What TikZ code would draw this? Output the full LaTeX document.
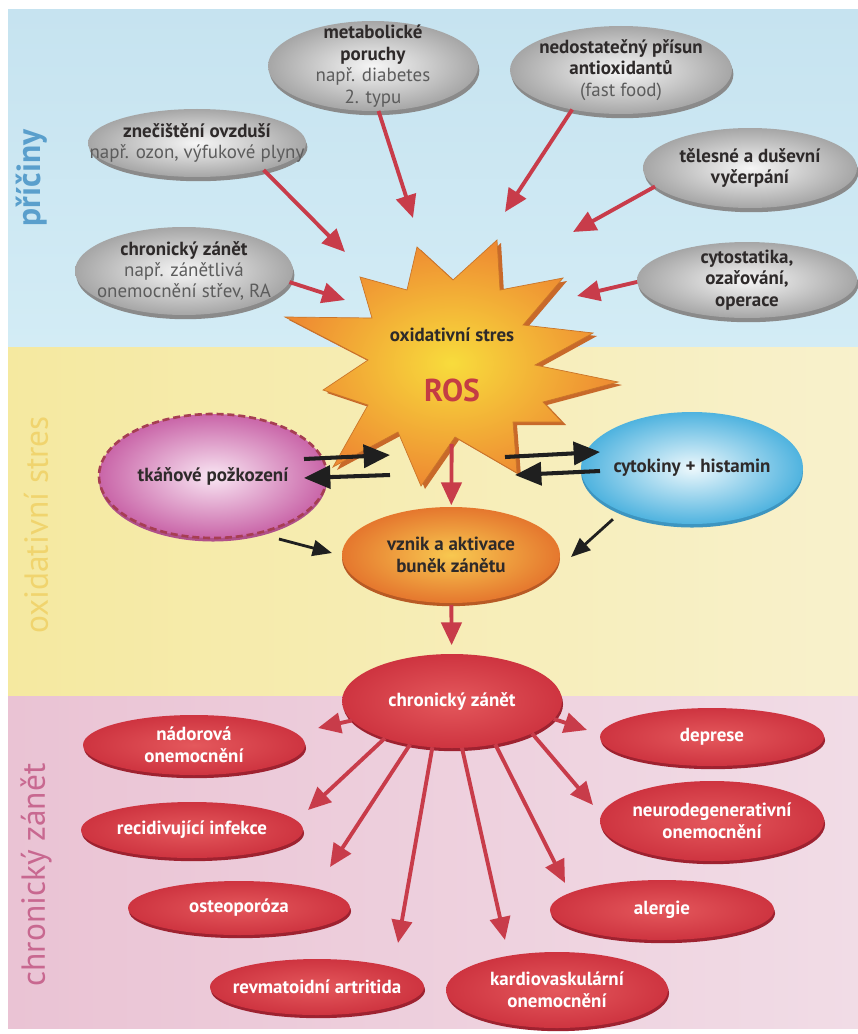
\documentclass[tikz,border=0pt]{standalone}
\usepackage{fontspec}
\setmainfont{PT Sans}
\usetikzlibrary{shapes.geometric,arrows.meta,shadows}
\definecolor{bandblue}{HTML}{D3ECF5}
\definecolor{bandblueT}{HTML}{C6E3F0}
\definecolor{bandyel}{HTML}{F5E9A0}
\definecolor{bandyelL}{HTML}{F8F1CC}
\definecolor{bandpink}{HTML}{EAC3D4}
\definecolor{bandpinkL}{HTML}{F1DCE6}
\definecolor{lblblue}{HTML}{5A9FCC}
\definecolor{lblyel}{HTML}{F0D46E}
\definecolor{lblpink}{HTML}{C86890}
\definecolor{greyin}{HTML}{F6F6F6}
\definecolor{greyout}{HTML}{A6A6A6}
\definecolor{greyrim}{HTML}{8A8A8A}
\definecolor{txtdark}{HTML}{2E2A2A}
\definecolor{txtsub}{HTML}{5C5C5C}
\definecolor{arrred}{HTML}{C83C4A}
\definecolor{starin}{HTML}{F8DC3C}
\definecolor{starout}{HTML}{EE8A32}
\definecolor{starrim}{HTML}{C8692A}
\definecolor{rosred}{HTML}{C43C44}
\definecolor{pinkin}{HTML}{F9E6F3}
\definecolor{pinkout}{HTML}{C965A8}
\definecolor{pinkdash}{HTML}{A63E52}
\definecolor{pinkrim}{HTML}{B0508A}
\definecolor{bluein}{HTML}{EDF8FC}
\definecolor{blueout}{HTML}{4FB3DF}
\definecolor{bluerim}{HTML}{3D95C0}
\definecolor{orin}{HTML}{F8C850}
\definecolor{orout}{HTML}{E5772E}
\definecolor{orrim}{HTML}{B85A24}
\definecolor{redin}{HTML}{E4585C}
\definecolor{redout}{HTML}{CE3440}
\definecolor{redrim}{HTML}{9E2230}
\newcommand\nf{\fontsize{10.8}{12.2}\selectfont}
\tikzset{
  wh/.style 2 args={minimum width=#1*0.02cm, minimum height=#2*0.02cm},
  oval/.style={ellipse, inner sep=0pt, outer sep=0pt},
  greyoval/.style={oval, shading=radial, inner color=greyin, outer color=greyout,
     general shadow={fill=greyrim, shadow xshift=0.8pt, shadow yshift=-2.4pt}},
  redoval/.style={oval, shading=radial, inner color=redin, outer color=redout,
     general shadow={fill=redrim, shadow xshift=0.6pt, shadow yshift=-1.8pt}},
  txt/.style={align=center, font=\nf, text=txtdark},
  btxt/.style={align=center, font=\nf\bfseries, text=txtdark},
  wtxt/.style={align=center, font=\nf\bfseries, text=white},
  rarr/.style={draw=arrred, line width=2.2pt, -{Triangle[length=13pt,width=11.5pt]}},
  barr/.style={draw=black!88, line width=2.3pt, -{Triangle[length=15pt,width=13pt]}},
  sbarr/.style={draw=black!88, line width=1.6pt, -{Triangle[length=11pt,width=9pt]}},
  bandlbl/.style={rotate=90, font=\fontsize{19}{22}\selectfont},
}
\begin{document}
\begin{tikzpicture}[x=0.02cm,y=-0.02cm]
\useasboundingbox (0,0) rectangle (858,1034);
\fill[white] (0,0) rectangle (858,1034);
% bands
\shade[top color=bandblueT, bottom color=bandblue] (8,10) rectangle (858,347);
\shade[left color=bandyel, right color=bandyelL] (8,347) rectangle (858,696);
\shade[left color=bandpink, right color=bandpinkL] (8,696) rectangle (858,1028);
\node[bandlbl, text=lblblue, font=\fontsize{19}{22}\selectfont\bfseries] (lab1) at (32,178) {příčiny};
\node[bandlbl, text=lblyel] (lab2) at (36,525) {oxidativní stres};
\node[bandlbl, text=lblpink] (lab3) at (36,875) {chronický zánět};

% star
\fill[starrim] [shift={(4,3)}] (497,240) -- (500,290) -- (563,278) -- (523,325) -- (593,333) -- (535,365) -- (618,382) -- (543,402) -- (562,422) -- (513,422) -- (517,473) -- (455,437) -- (421,486) -- (398,432) -- (333,467) -- (368,405) -- (323,390) -- (368,360) -- (285,317) -- (372,318) -- (360,277) -- (407,290) -- (417,247) -- (453,280) -- cycle;
\shade[shading=radial, inner color=starin, outer color=starout, draw=starout!85!black, line width=0.4pt] (497,240) -- (500,290) -- (563,278) -- (523,325) -- (593,333) -- (535,365) -- (618,382) -- (543,402) -- (562,422) -- (513,422) -- (517,473) -- (455,437) -- (421,486) -- (398,432) -- (333,467) -- (368,405) -- (323,390) -- (368,360) -- (285,317) -- (372,318) -- (360,277) -- (407,290) -- (417,247) -- (453,280) -- cycle;
\node[btxt] (stress) at (452,335) {oxidativní stres};
\node[font=\fontsize{18}{20}\selectfont\bfseries, text=rosred, inner sep=0pt] (ros) at (452,390) {ROS};

% grey cause nodes
\node[greyoval, wh={210}{90}] (met) at (373,66) {};
\node[txt] (met-t) at (met) {\textbf{metabolické}\\\textbf{poruchy}\\{\color{txtsub}např. diabetes}\\{\color{txtsub}2. typu}};
\node[greyoval, wh={222}{88}] (ned) at (621,70) {};
\node[txt] (ned-t) at (ned) {\textbf{nedostatečný přísun}\\\textbf{antioxidantů}\\{\color{txtsub}(fast food)}};
\node[greyoval, wh={218}{68}] (znec) at (197,143) {};
\node[txt] (znec-t) at (znec) {\textbf{znečištění ovzduší}\\{\color{txtsub}např. ozon, výfukové plyny}};
\node[greyoval, wh={214}{80}] (tel) at (750,168) {};
\node[btxt] (tel-t) at (tel) {tělesné a duševní\\vyčerpání};
\node[greyoval, wh={218}{88}] (chr1) at (184,271) {};
\node[txt] (chr1-t) at (chr1) {\textbf{chronický zánět}\\{\color{txtsub}např. zánětlivá}\\{\color{txtsub}onemocnění střev, RA}};
\node[greyoval, wh={220}{76}] (cyto) at (747,280) {};
\node[btxt] (cyto-t) at (cyto) {cytostatika,\\ozařování,\\operace};

% arrow tips near the star
\coordinate (tZ) at (345,252);
\coordinate (tM) at (413,218);
\coordinate (tN) at (505,212);
\coordinate (tT) at (573,232);
\coordinate (tC) at (577,296);
\coordinate (tR) at (345,300);
\draw[rarr] (znec.-22) -- (tZ);
\draw[rarr] (met.-83) -- (tM);
\draw[rarr] (ned.219) -- (tN);
\draw[rarr] (tel.191) -- (tT);
\draw[rarr] (cyto.181) -- (tC);
\draw[rarr] (chr1.-6) -- (tR);

% middle nodes
\node[oval, wh={228}{124}, shading=radial, inner color=pinkin, outer color=pinkout,
  general shadow={fill=pinkrim, shadow yshift=-2pt},
  draw=pinkdash, line width=1.5pt, dash pattern=on 4pt off 2.2pt] (tk) at (213,476) {};
\node[btxt] (tk-t) at (tk) {tkáňové požkození};
\node[oval, wh={222}{112}, shading=radial, inner color=bluein, outer color=blueout,
  general shadow={fill=bluerim, shadow yshift=-2pt}] (cy) at (692,468) {};
\node[btxt] (cy-t) at (cy) {cytokiny + histamin};
\node[oval, wh={218}{96}, shading=radial, inner color=orin, outer color=orout,
  general shadow={fill=orrim, shadow yshift=-1.8pt}] (vz) at (451,555) {};
\node[btxt] (vz-t) at (vz) {vznik a aktivace\\buněk zánětu};
\node[redoval, wh={220}{94}] (chz) at (452,701) {};
\node[wtxt] (chz-t) at (chz) {chronický zánět};

% black arrows
\coordinate (sL1) at (390,455);
\coordinate (sL2) at (390,475);
\coordinate (sR1) at (505,457);
\coordinate (sR2) at (515,475);
\draw[barr] ([shift={(-23,-17)}]tk.east) -- (sL1);
\draw[barr] (sL2) -- ([shift={(-23,2)}]tk.east);
\draw[barr] (sR1) -- ([shift={(19,-16)}]cy.west);
\draw[barr] ([shift={(19,3)}]cy.west) -- (sR2);
\draw[sbarr] ([shift={(10,9)}]tk.-44) -- ([shift={(-10,-2)}]vz.west);
\draw[sbarr] ([shift={(-11,7)}]cy.213) -- ([shift={(11,2)}]vz.east);

% vertical red arrows
\draw[rarr, shorten <=24pt, shorten >=1pt] (ros) -- (vz);
\draw[rarr, shorten <=1pt, shorten >=5pt] (vz) -- (chz);

% disease nodes
\node[redoval, wh={222}{60}] (nad) at (194,745) {};
\node[wtxt] (nad-t) at (nad) {nádorová\\onemocnění};
\node[redoval, wh={222}{56}] (recid) at (192,830) {};
\node[wtxt] (recid-t) at (recid) {recidivující infekce};
\node[redoval, wh={222}{54}] (osteo) at (239,908) {};
\node[wtxt] (osteo-t) at (osteo) {osteoporóza};
\node[redoval, wh={214}{56}] (revm) at (317,987) {};
\node[wtxt] (revm-t) at (revm) {revmatoidní artritida};
\node[redoval, wh={224}{58}] (depr) at (712,737) {};
\node[wtxt] (depr-t) at (depr) {deprese};
\node[redoval, wh={224}{80}] (neuro) at (712,821) {};
\node[wtxt] (neuro-t) at (neuro) {neurodegenerativní\\onemocnění};
\node[redoval, wh={224}{60}] (alerg) at (662,910) {};
\node[wtxt] (alerg-t) at (alerg) {alergie};
\node[redoval, wh={222}{76}] (kardio) at (557,990) {};
\node[wtxt] (kardio-t) at (kardio) {kardiovaskulární\\onemocnění};

\draw[rarr] (chz.191) -- ([shift={(124,-17)}]nad.center);
\draw[rarr] (chz.209) -- ([shift={(116,-20)}]recid.center);
\draw[rarr] (chz.226) -- ([shift={(91,-41)}]osteo.center);
\draw[rarr] (chz.247) -- ([shift={(81,-44)}]revm.center);
\draw[rarr] (chz.282) -- ([shift={(-52,-50)}]kardio.center);
\draw[rarr] (chz.315) -- ([shift={(-97,-27)}]alerg.center);
\draw[rarr] (chz.338) -- ([shift={(-119,-16)}]neuro.center);
\draw[rarr] (chz.350) -- ([shift={(-125,-7)}]depr.center);
\end{tikzpicture}
\end{document}
